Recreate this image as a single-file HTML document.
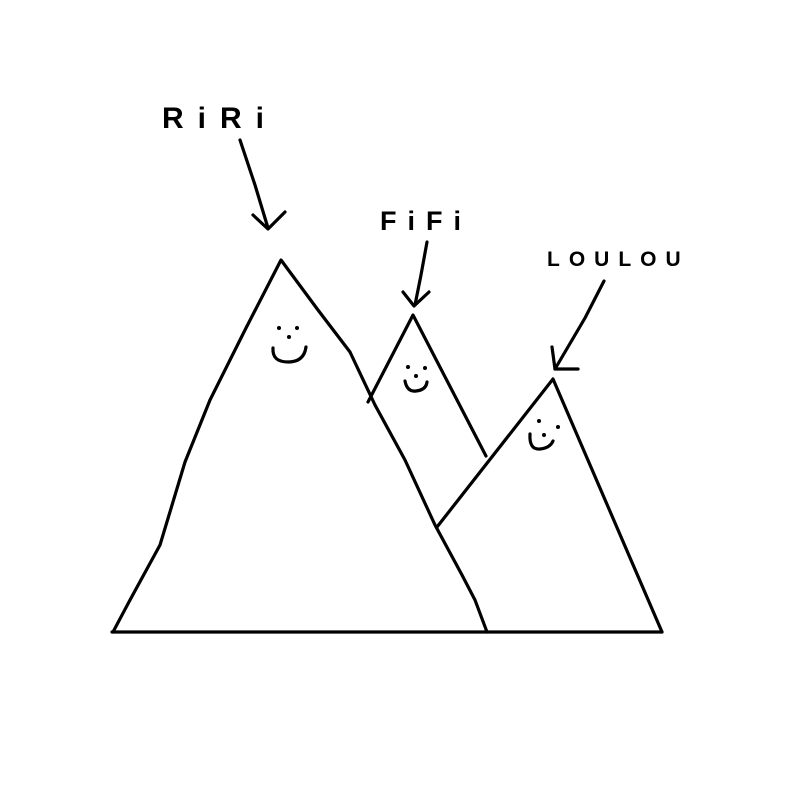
<!DOCTYPE html>
<html><head><style>
html,body{margin:0;padding:0;background:#fff;width:800px;height:800px;overflow:hidden}
text{font-family:"Liberation Sans",sans-serif;font-weight:bold;fill:#000}
</style></head><body>
<svg width="800" height="800" viewBox="0 0 800 800" xmlns="http://www.w3.org/2000/svg">
<g fill="none" stroke="#000" stroke-width="3.2" stroke-linecap="round" stroke-linejoin="round">
<line x1="112" y1="632" x2="662" y2="632"/>
<path d="M113,632 L130,600 L160,545 L185,462 L210,400 L245,330 L281,260 L318,310 L350,352 L375,405 L405,460 L435,525 L462,575 L475,600 L487,632"/>
<path d="M368,402 L413,315 L486,456"/>
<path d="M437,527 L553,379 L662,632"/>
<path d="M273,348 Q272,362 288,362 Q304,362 306,347"/>
<path d="M405,381 Q407,392 416,391 Q426,390 427,382"/>
<path d="M530,434 Q529,450 540,449 Q550,448 553,441"/>
<path d="M240,140 L255,185 L268,228"/>
<path d="M253,215 L268,229 L285,212"/>
<path d="M427,242 L421,275 L415,305"/>
<path d="M403,292 L414,306 L429,292"/>
<path d="M604,281 L585,318 L555,369"/>
<path d="M552,347 L555,369 L578,369"/>
</g>
<g fill="#000">
<circle cx="279" cy="328" r="2"/><circle cx="297" cy="328" r="2"/><circle cx="289" cy="337" r="2"/>
<circle cx="408" cy="367" r="2"/><circle cx="425" cy="368" r="2"/><circle cx="416" cy="376" r="2"/>
<circle cx="539" cy="421" r="2"/><circle cx="558" cy="427" r="2"/><circle cx="544" cy="435" r="2"/>
</g>
<text x="162" y="128" font-size="30" letter-spacing="14">RiRi</text>
<text x="380" y="230" font-size="27" letter-spacing="11">FiFi</text>
<text x="547" y="266" font-size="21" letter-spacing="9">LOULOU</text>
</svg>
</body></html>
